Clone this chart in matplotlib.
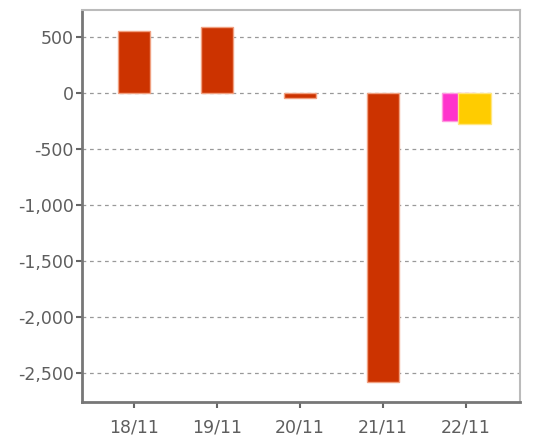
import numpy as np
import matplotlib
matplotlib.use("Agg")
import matplotlib.pyplot as plt

## values
days = ["18/11", "19/11", "20/11", "21/11", "22/11"]
main_vals = [550, 590, -45, -2580, np.nan]
pink_vals = [np.nan, np.nan, np.nan, np.nan, -250]
yellow_vals = [np.nan, np.nan, np.nan, np.nan, -275]
yticks = [500, 0, -500, -1000, -1500, -2000, -2500]
ylabels = ["500", "0", "-500", "-1,000", "-1,500", "-2,000", "-2,500"]

fig = plt.figure(figsize=[5.36, 4.46], dpi=100)
ax = fig.add_axes([82/536, 1 - 402/446, (520-82)/536, (402-10)/446])

x = np.arange(len(days))
w = 0.39
ax.bar(x, main_vals, width=w, color="#cc3300", edgecolor="#f0a080", linewidth=1, zorder=3)
ax.bar(x - 0.1, pink_vals, width=w, color="#ff33cc", edgecolor="#ff99e0", linewidth=1, zorder=3)
ax.bar(x + 0.1, yellow_vals, width=w, color="#ffcc00", edgecolor="#ffe680", linewidth=1, zorder=4)

ax.set_xlim(-0.63, 4.65)
ax.set_ylim(-2760, 740)
ax.set_xticks(x)
ax.set_xticklabels(days)
ax.set_yticks(yticks)
ax.set_yticklabels(ylabels)

ax.yaxis.grid(True, linestyle=(0, (3, 3)), color="#999999", linewidth=0.9, zorder=0)
ax.tick_params(axis="both", colors="#666666", labelcolor="#5e5e5e", labelsize=12.5, length=4, width=1.5)
ax.tick_params(axis="y", pad=2)
ax.tick_params(axis="x", pad=8)

ax.spines["left"].set_color("#777777")
ax.spines["left"].set_linewidth(2)
ax.spines["bottom"].set_color("#777777")
ax.spines["bottom"].set_linewidth(2)
ax.spines["top"].set_color("#bbbbbb")
ax.spines["top"].set_linewidth(1.5)
ax.spines["right"].set_color("#bbbbbb")
ax.spines["right"].set_linewidth(1.5)

fig.savefig("out.png", dpi=100)
